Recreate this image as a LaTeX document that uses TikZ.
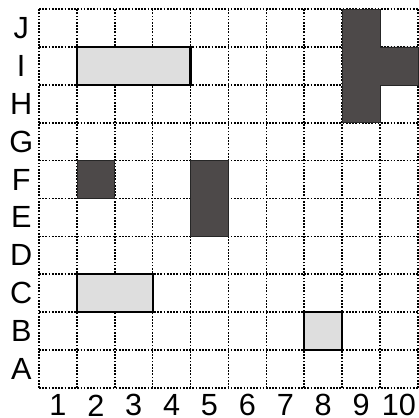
\documentclass[tikz,border=0pt]{standalone}
\usepackage{fontspec}
\setmainfont{Liberation Sans}
\usepackage{xcolor}
\usepackage{tikz}
\definecolor{darkcell}{HTML}{4D4949}
\definecolor{lightcell}{HTML}{DEDEDE}

\begin{document}
\begin{tikzpicture}[x=1cm, y=1cm,
    gridline/.style={line width=1.2pt, dash pattern=on 1.3pt off 1.1pt},
    lightbox/.style={fill=lightcell, draw=black, line width=1.6pt},
    darkbox/.style={fill=darkcell, draw=black!85, line width=0.5pt},
    lbl/.style={font=\fontsize{23}{26}\selectfont, inner sep=0pt}]
        \useasboundingbox (-1.03,-0.77) rectangle (10.03,10.24);
        \foreach \i in {0,...,10} {
            \draw[gridline] (\i,0) -- (\i,10);
            \draw[gridline] (0,\i) -- (10,\i);
        }
        \draw[lightbox] (1,8) rectangle (4,9);
        \draw[lightbox] (1,2) rectangle (3,3);
        \draw[lightbox] (7,1) rectangle (8,2);
        \draw[darkbox] (1,5) rectangle (2,6);
        \draw[darkbox] (4,4) rectangle (5,6);
        \draw[darkbox] (8,7) -- (8,10) -- (9,10) -- (9,9) -- (10,9) -- (10,8) -- (9,8) -- (9,7) -- cycle;
        \foreach \n in {1,...,10}
            \node[lbl] (col\n) at (\n-0.5,-0.46) {\n};
        \foreach \r [count=\k] in {A,B,C,D,E,F,G,H,I,J}
            \node[lbl] (row\r) at (-0.47,\k-0.5) {\r};
    \end{tikzpicture}
\end{document}
